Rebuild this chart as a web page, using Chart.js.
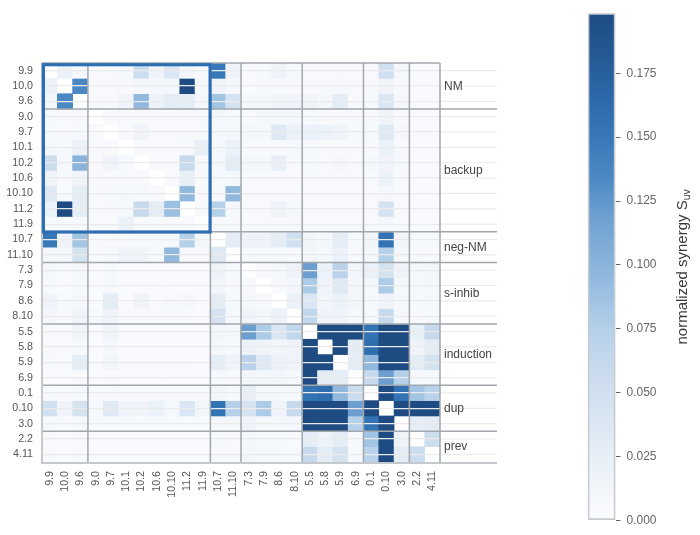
<!DOCTYPE html>
<html><head><meta charset="utf-8">
<script src="https://cdn.jsdelivr.net/npm/chart.js@4"></script>
<style>
html,body{margin:0;padding:0;background:#fff;}
#wrap{position:relative;width:700px;height:535px;overflow:hidden;}
#main{position:absolute;left:0;top:0;}
#cbar{position:absolute;left:540px;top:0;}
</style></head><body>
<div id="wrap">
<canvas id="main" width="700" height="535" style="width:700px;height:535px"></canvas>
<canvas id="cbar" width="160" height="535" style="width:160px;height:535px"></canvas>
</div>
<script>
const colLabels = ['9.9','10.0','9.6','9.0','9.7','10.1','10.2','10.6','10.10','11.2','11.9','10.7','11.10','7.3','7.9','8.6','8.10','5.5','5.8','5.9','6.9','0.1','0.10','3.0','2.2','4.11'];
const rowLabels = ['9.9','10.0','9.6','9.0','9.7','10.1','10.2','10.6','10.10','11.2','11.9','10.7','11.10','7.3','7.9','8.6','8.10','5.5','5.8','5.9','6.9','0.1','0.10','3.0','2.2','4.11'];
const groupNames = ['NM','backup','neg-NM','s-inhib','induction','dup','prev'];
const groupSizes = [3,8,2,4,4,3,2];
const cbarTicks = [0,0.025,0.05,0.075,0.1,0.125,0.15,0.175];
const vmax = 0.1985;

const synergy = [
 [null,.02,.01,.003,.005,.008,.055,.015,.04,.012,.005,.15,.015,.005,.008,.015,.008,.005,.005,.005,.005,.005,.05,.01,.003,.003],
 [.02,null,.135,.005,.005,.005,.01,.01,.01,.2,.005,.015,.01,.003,.005,.005,.005,.005,.005,.008,.005,.005,.015,.005,.003,.003],
 [.01,.135,null,.005,.005,.015,.095,.02,.03,.028,.01,.085,.045,.01,.01,.015,.015,.015,.01,.03,.005,.008,.04,.01,.003,.003],
 [.008,.005,.005,null,.005,.005,.005,.005,.005,.005,.005,.01,.008,.003,.01,.01,.01,.008,.005,.005,.005,.005,.015,.005,.003,.003],
 [.008,.005,.008,.005,null,.005,.015,.005,.005,.005,.005,.01,.01,.01,.01,.035,.022,.022,.02,.015,.008,.008,.035,.01,.005,.005],
 [.01,.008,.02,.005,.005,null,.005,.005,.005,.008,.025,.01,.02,.005,.005,.005,.008,.008,.005,.005,.005,.005,.022,.005,.003,.003],
 [.055,.008,.1,.005,.015,.008,null,.005,.005,.06,.005,.01,.03,.01,.01,.025,.005,.008,.005,.01,.005,.01,.015,.008,.003,.003],
 [.015,.005,.015,.005,.005,.005,.005,null,.005,.025,.005,.008,.01,.005,.005,.005,.005,.005,.005,.005,.005,.005,.02,.005,.003,.003],
 [.035,.005,.028,.005,.008,.01,.008,.005,null,.095,.005,.005,.095,.005,.005,.005,.005,.005,.005,.005,.005,.005,.01,.005,.003,.003],
 [.02,.2,.028,.005,.005,.008,.06,.03,.09,null,.005,.075,.008,.005,.005,.018,.01,.005,.005,.005,.005,.005,.045,.005,.003,.003],
 [.005,.005,.008,.005,.005,.02,.005,.005,.005,.005,null,.008,.005,.005,.005,.005,.005,.005,.005,.005,.005,.005,.01,.005,.003,.003],
 [.15,.015,.085,.005,.005,.005,.008,.008,.008,.075,.01,null,.03,.018,.018,.03,.05,.012,.01,.028,.008,.012,.155,.012,.008,.008],
 [.01,.01,.045,.005,.008,.015,.015,.008,.095,.005,.005,.035,null,.008,.008,.008,.005,.012,.008,.02,.005,.01,.075,.01,.005,.005],
 [.01,.005,.01,.003,.008,.003,.003,.003,.003,.003,.003,.018,.008,null,.005,.01,.015,.12,.02,.07,.012,.022,.045,.015,.01,.012],
 [.008,.003,.008,.003,.008,.003,.003,.003,.003,.003,.003,.012,.005,.005,null,.005,.01,.08,.015,.035,.01,.01,.08,.01,.008,.01],
 [.015,.008,.01,.003,.03,.003,.015,.003,.008,.01,.003,.03,.008,.01,.005,null,.02,.04,.012,.02,.012,.01,.015,.01,.008,.01],
 [.01,.005,.015,.008,.015,.005,.005,.005,.005,.005,.003,.045,.008,.015,.01,.02,null,.065,.015,.015,.008,.008,.06,.01,.005,.008],
 [.005,.005,.015,.003,.015,.003,.003,.003,.003,.003,.003,.012,.01,.12,.08,.04,.065,null,.2,.2,.2,.155,.2,.2,.025,.06],
 [.005,.005,.008,.003,.01,.003,.003,.003,.003,.003,.003,.01,.008,.02,.015,.012,.015,.2,null,.2,.03,.16,.2,.2,.015,.03],
 [.008,.005,.028,.003,.012,.005,.005,.005,.005,.005,.003,.028,.015,.07,.035,.02,.015,.2,.2,null,.03,.095,.2,.2,.03,.045],
 [.003,.003,.005,.003,.005,.003,.003,.003,.003,.003,.003,.008,.005,.012,.01,.012,.008,.2,.03,.028,null,.06,.12,.075,.008,.008],
 [.008,.005,.008,.005,.005,.005,.005,.005,.005,.005,.005,.012,.008,.025,.01,.01,.008,.155,.16,.095,.055,null,.2,.155,.085,.07],
 [.05,.015,.045,.008,.035,.018,.015,.02,.008,.04,.012,.155,.075,.045,.08,.015,.06,.2,.2,.2,.12,.2,null,.2,.2,.2],
 [.008,.005,.01,.005,.005,.005,.005,.005,.005,.005,.005,.01,.01,.015,.01,.01,.01,.2,.2,.2,.075,.155,.2,null,.028,.03],
 [.005,.003,.005,.003,.003,.003,.003,.003,.003,.003,.003,.008,.005,.01,.008,.008,.005,.028,.018,.03,.008,.085,.2,.018,null,.055],
 [.005,.003,.005,.003,.003,.003,.003,.003,.003,.003,.003,.005,.005,.012,.01,.01,.008,.06,.03,.045,.008,.07,.2,.03,.055,null]
];

// colour map (fraction of vmax -> rgb)
const cmapStops = [
 [0.00,[251,252,254]],[0.05,[244,247,251]],[0.10,[236,242,249]],[0.15,[228,236,246]],
 [0.20,[218,230,243]],[0.25,[209,224,240]],[0.30,[200,218,237]],[0.38,[180,208,233]],
 [0.48,[145,185,222]],[0.60,[110,160,208]],[0.68,[75,135,195]],[0.78,[50,115,180]],
 [0.88,[40,95,158]],[1.00,[30,75,130]]
];
function cmap(v){
  let t = Math.max(0, Math.min(1, v / vmax));
  for (let i = 1; i < cmapStops.length; i++){
    const [t1,c1] = cmapStops[i], [t0,c0] = cmapStops[i-1];
    if (t <= t1){
      const f = (t - t0) / (t1 - t0);
      const c = c0.map((a,k)=>Math.round(a + (c1[k]-a)*f));
      return `rgb(${c[0]},${c[1]},${c[2]})`;
    }
  }
  const c = cmapStops[cmapStops.length-1][1];
  return `rgb(${c[0]},${c[1]},${c[2]})`;
}

const FONT = '"Liberation Sans", Arial, Helvetica, sans-serif';
Chart.defaults.font.family = FONT;

const groupBounds = [0];
groupSizes.forEach(s => groupBounds.push(groupBounds[groupBounds.length-1] + s));

const datasets = rowLabels.map((rl, r) => ({
  label: rl,
  data: colLabels.map((c, j) => synergy[r][j] === null ? null : [r, r + 1]),
  backgroundColor: colLabels.map((c, j) => synergy[r][j] === null ? 'rgba(0,0,0,0)' : cmap(synergy[r][j])),
  borderWidth: 0,
  grouped: false,
  barPercentage: 1,
  categoryPercentage: 1
}));

const decor = {
  id: 'decor',
  afterDraw(chart){
    const {ctx, chartArea:{left,right,top,bottom}} = chart;
    const xs = chart.scales.x, ys = chart.scales.y;
    const ext = right + 57;
    const n = colLabels.length;
    const colEdge = k => k === 0 ? left : (k === n ? right : (xs.getPixelForValue(k-1) + xs.getPixelForValue(k)) / 2);
    const rowEdge = b => ys.getPixelForValue(b);
    ctx.save();
    ctx.strokeStyle = '#ebebeb'; ctx.lineWidth = 1.2;
    for (let r = 0; r < rowLabels.length; r++){
      const y = ys.getPixelForValue(r + 0.5);
      ctx.beginPath(); ctx.moveTo(right, y); ctx.lineTo(ext, y); ctx.stroke();
    }
    ctx.strokeStyle = '#a2a7ad'; ctx.lineWidth = 1.5;
    groupBounds.forEach((b, i) => {
      if (i === groupBounds.length - 1) return;
      const y = rowEdge(b);
      ctx.beginPath(); ctx.moveTo(left, y); ctx.lineTo(i === 0 ? right : ext, y); ctx.stroke();
    });
    groupBounds.forEach((b, i) => {
      if (i === 0) return;
      const x = colEdge(b);
      ctx.beginPath(); ctx.moveTo(x, top); ctx.lineTo(x, bottom); ctx.stroke();
    });
    ctx.strokeStyle = '#c4c9ce'; ctx.lineWidth = 2;
    ctx.beginPath(); ctx.moveTo(left, top); ctx.lineTo(left, bottom + 1); ctx.lineTo(ext, bottom + 1); ctx.stroke();
    const x0 = colEdge(0), x1 = colEdge(groupBounds[2]);
    const y0 = rowEdge(0), y1 = rowEdge(groupBounds[2]);
    ctx.strokeStyle = '#2e6fb2'; ctx.lineWidth = 3.2;
    ctx.strokeRect(x0 + 1.4, y0 + 1.7, (x1 - 0.3) - (x0 + 1.4), (y1 + 0.2) - (y0 + 1.7));
    ctx.fillStyle = '#444'; ctx.font = '12px ' + FONT;
    ctx.textAlign = 'left'; ctx.textBaseline = 'middle';
    groupNames.forEach((g, i) => {
      const y = (rowEdge(groupBounds[i]) + rowEdge(groupBounds[i+1])) / 2 + 0.5;
      ctx.fillText(g, right + 4, y);
    });
    ctx.restore();
  }
};

new Chart(document.getElementById('main'), {
  type: 'bar',
  data: { labels: colLabels, datasets },
  options: {
    responsive: false, animation: false,
    layout: { padding: { left: 0, top: 63, right: 260, bottom: 0 } },
    plugins: { legend: { display: false }, tooltip: { enabled: false } },
    scales: {
      x: {
        type: 'category',
        grid: { display: false }, border: { display: false },
        ticks: { autoSkip: false, minRotation: 90, maxRotation: 90, padding: 1, color: '#555', font: { size: 10.7 } },
        afterFit: s => { s.height = 73; }
      },
      y: {
        type: 'linear', reverse: true, min: 0, max: rowLabels.length,
        afterBuildTicks: s => { s.ticks = rowLabels.map((l, r) => ({ value: r + 0.5 })); },
        ticks: { padding: 9, color: '#555', font: { size: 10.7 }, callback: v => rowLabels[Math.floor(v)] },
        grid: { z: 1, color: '#ebebeb', lineWidth: 1.2, drawTicks: false },
        border: { display: false },
        afterFit: s => { s.width = 42; }
      }
    }
  },
  plugins: [decor]
});

const cbTitle = {
  id: 'cbTitle',
  afterDraw(chart){
    const ctx = chart.ctx;
    const ca = chart.chartArea;
    ctx.save();
    ctx.translate(143, (ca.top + ca.bottom) / 2);
    ctx.rotate(-Math.PI / 2);
    ctx.fillStyle = '#3a3a3a';
    ctx.textBaseline = 'middle';
    ctx.font = '15px ' + FONT;
    const main = 'normalized synergy S';
    const w1 = ctx.measureText(main).width;
    ctx.font = '10.5px ' + FONT;
    const w2 = ctx.measureText('uv').width;
    const x0 = -(w1 + w2) / 2;
    ctx.font = '15px ' + FONT;
    ctx.fillText(main, x0, 0);
    ctx.font = '10.5px ' + FONT;
    ctx.fillText('uv', x0 + w1, 4);
    ctx.restore();
  }
};

new Chart(document.getElementById('cbar'), {
  type: 'bar',
  data: {
    labels: ['S'],
    datasets: [{
      data: [[0, vmax]],
      backgroundColor: (c) => {
        const ca = c.chart.chartArea;
        if (!ca) return '#fff';
        const g = c.chart.ctx.createLinearGradient(0, ca.bottom, 0, ca.top);
        cmapStops.forEach(([t, col]) => g.addColorStop(t, `rgb(${col[0]},${col[1]},${col[2]})`));
        return g;
      },
      borderColor: '#c6cace', borderWidth: 2, borderSkipped: false,
      barPercentage: 1, categoryPercentage: 1
    }]
  },
  options: {
    responsive: false, animation: false,
    layout: { padding: { left: 47.7, top: 5, right: 0, bottom: 14.5 } },
    plugins: { legend: { display: false }, tooltip: { enabled: false } },
    scales: {
      x: { display: false },
      y: {
        position: 'right', min: 0, max: vmax,
        afterBuildTicks: s => { s.ticks = cbarTicks.map(v => ({ value: v })); },
        ticks: { padding: 6, color: '#666', font: { size: 12 }, callback: v => v.toFixed(3) },
        grid: { drawOnChartArea: false, drawTicks: true, tickLength: 5, tickColor: '#666', tickWidth: 1 },
        border: { display: false },
        afterFit: s => { s.width = 84.5; }
      }
    }
  },
  plugins: [cbTitle]
});
</script>
</body></html>
